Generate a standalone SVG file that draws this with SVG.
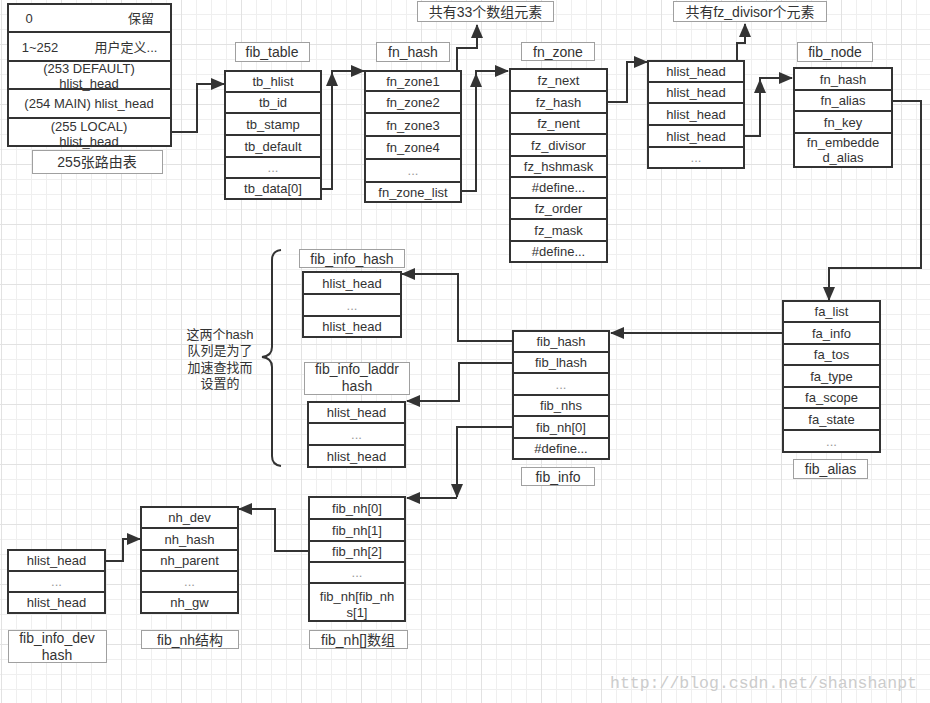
<svg xmlns="http://www.w3.org/2000/svg" width="930" height="703" viewBox="0 0 930 703">
<defs>
<pattern id="grid" patternUnits="userSpaceOnUse" x="1" y="44" width="60" height="60">
<rect x="15" y="0" width="1" height="60" fill="#efefef"/>
<rect x="30" y="0" width="1" height="60" fill="#efefef"/>
<rect x="45" y="0" width="1" height="60" fill="#efefef"/>
<rect x="0" y="15" width="60" height="1" fill="#efefef"/>
<rect x="0" y="30" width="60" height="1" fill="#efefef"/>
<rect x="0" y="45" width="60" height="1" fill="#efefef"/>
<rect x="0" y="0" width="1" height="60" fill="#e2e2e2"/>
<rect x="0" y="0" width="60" height="1" fill="#e2e2e2"/>
</pattern>
<marker id="ah" markerUnits="userSpaceOnUse" viewBox="0 0 14 12" markerWidth="14" markerHeight="12" refX="13" refY="6" orient="auto">
<path d="M0,0 L14,6 L0,12 z" fill="#333"/>
</marker>
</defs>
<style>
.box{fill:#fff;stroke:#333;stroke-width:2}
.sep{stroke:#333;stroke-width:2}
.cap{fill:#fff;stroke:#a0a0a0;stroke-width:1}
text{font-family:"Liberation Sans","Noto Sans CJK SC",sans-serif;font-size:13px;fill:#333;text-anchor:middle}
.ct{font-size:14px}
.dim{fill:#999}
.st{text-anchor:start}
.wire{fill:none;stroke:#333;stroke-width:2}
.wm{font-family:"Liberation Mono",monospace;font-size:16.5px;fill:#cccccc;text-anchor:start}
</style>
<rect width="930" height="703" fill="#fff"/>
<rect width="930" height="703" fill="url(#grid)"/>

<g id="route-tables">
<rect class="box" x="8" y="4" width="163" height="142"/>
<path class="sep" d="M8,32 H171 M8,61 H171 M8,89 H171 M8,118 H171"/>
<text x="29" y="22.5">0</text>
<text x="141" y="22.5">保留</text>
<text x="40" y="52">1~252</text>
<text x="126" y="52">用户定义...</text>
<text x="89" y="72.5">(253 DEFAULT)</text>
<text x="89" y="87.5">hlist_head</text>
<text x="89" y="108">(254 MAIN) hlist_head</text>
<text x="89" y="130.5">(255 LOCAL)</text>
<text x="89" y="146">hlist_head</text>
<rect class="cap" x="32.5" y="150.5" width="130" height="23"/>
<text class="ct" x="97" y="166.5">255张路由表</text>
</g>

<g id="fib_table">
<rect class="cap" x="235.5" y="42.5" width="74" height="19"/>
<text class="ct" x="272" y="57">fib_table</text>
<rect class="box" x="225" y="71" width="96" height="128"/>
<path class="sep" d="M225,92 H321 M225,113 H321 M225,135 H321 M225,157 H321 M225,178 H321"/>
<text x="273" y="86">tb_hlist</text>
<text x="273" y="107">tb_id</text>
<text x="273" y="128.5">tb_stamp</text>
<text x="273" y="150.5">tb_default</text>
<text class="dim" x="273" y="172">...</text>
<text x="273" y="193">tb_data[0]</text>
</g>

<g id="fn_hash">
<rect class="cap" x="376.5" y="42.5" width="73" height="19"/>
<text class="ct" x="413" y="57">fn_hash</text>
<rect class="box" x="365" y="71" width="96" height="131"/>
<path class="sep" d="M365,91 H461 M365,113 H461 M365,136 H461 M365,159 H461 M365,182 H461"/>
<text x="413" y="86">fn_zone1</text>
<text x="413" y="107">fn_zone2</text>
<text x="413" y="129.5">fn_zone3</text>
<text x="413" y="152">fn_zone4</text>
<text class="dim" x="413" y="175">...</text>
<text x="413" y="196.5">fn_zone_list</text>
</g>

<g id="note33">
<rect class="cap" x="417.5" y="1.5" width="136" height="20"/>
<text class="ct" x="485.5" y="16.5">共有33个数组元素</text>
</g>

<g id="fn_zone">
<rect class="cap" x="521.5" y="42.5" width="73" height="18"/>
<text class="ct" x="558" y="56.5">fn_zone</text>
<rect class="box" x="510" y="69" width="97" height="193"/>
<path class="sep" d="M510,91 H607 M510,113 H607 M510,134 H607 M510,156 H607 M510,177 H607 M510,198 H607 M510,219 H607 M510,241 H607"/>
<text x="558.5" y="84.5">fz_next</text>
<text x="558.5" y="106.5">fz_hash</text>
<text x="558.5" y="128">fz_nent</text>
<text x="558.5" y="149.5">fz_divisor</text>
<text x="558.5" y="171">fz_hshmask</text>
<text x="558.5" y="192">#define...</text>
<text x="558.5" y="213">fz_order</text>
<text x="558.5" y="234.5">fz_mask</text>
<text x="558.5" y="256">#define...</text>
</g>

<g id="fz_hash_table">
<rect class="box" x="648" y="61" width="96" height="107"/>
<path class="sep" d="M648,82 H744 M648,103 H744 M648,125 H744 M648,147 H744"/>
<text x="696" y="76">hlist_head</text>
<text x="696" y="97">hlist_head</text>
<text x="696" y="118.5">hlist_head</text>
<text x="696" y="140.5">hlist_head</text>
<text class="dim" x="696" y="162">...</text>
</g>

<g id="note_divisor">
<rect class="cap" x="673.5" y="1.5" width="153" height="20"/>
<text class="ct" x="750" y="16.5">共有fz_divisor个元素</text>
</g>

<g id="fib_node">
<rect class="cap" x="797.5" y="42.5" width="75" height="19"/>
<text class="ct" x="835" y="57">fib_node</text>
<rect class="box" x="794" y="68" width="98" height="99"/>
<path class="sep" d="M794,90 H892 M794,111 H892 M794,133 H892"/>
<text x="843" y="83.5">fn_hash</text>
<text x="843" y="105">fn_alias</text>
<text x="843" y="126.5">fn_key</text>
<text x="843" y="146.5">fn_embedde</text>
<text x="843" y="161.5">d_alias</text>
</g>

<g id="fib_alias">
<rect class="box" x="783" y="301" width="97" height="151"/>
<path class="sep" d="M783,322 H880 M783,344 H880 M783,365 H880 M783,387 H880 M783,408 H880 M783,430 H880"/>
<text x="831.5" y="316">fa_list</text>
<text x="831.5" y="337.5">fa_info</text>
<text x="831.5" y="359">fa_tos</text>
<text x="831.5" y="380.5">fa_type</text>
<text x="831.5" y="402">fa_scope</text>
<text x="831.5" y="423.5">fa_state</text>
<text class="dim" x="831.5" y="445.5">...</text>
<rect class="cap" x="793.5" y="459.5" width="74" height="19"/>
<text class="ct" x="830.5" y="474">fib_alias</text>
</g>

<g id="fib_info">
<rect class="box" x="513" y="331" width="96" height="128"/>
<path class="sep" d="M513,352 H609 M513,373 H609 M513,395 H609 M513,416 H609 M513,438 H609"/>
<text x="561" y="346">fib_hash</text>
<text x="561" y="367">fib_lhash</text>
<text class="dim" x="561" y="388.5">...</text>
<text x="561" y="410">fib_nhs</text>
<text x="561" y="431.5">fib_nh[0]</text>
<text x="561" y="453">#define...</text>
<rect class="cap" x="521.5" y="467.5" width="73" height="18"/>
<text class="ct" x="558" y="481.5">fib_info</text>
</g>

<g id="fib_info_hash">
<rect class="cap" x="299.5" y="249.5" width="105" height="18"/>
<text class="ct" x="352" y="263.5">fib_info_hash</text>
<rect class="box" x="303" y="272" width="98" height="65"/>
<path class="sep" d="M303,294 H401 M303,316 H401"/>
<text x="352" y="287.5">hlist_head</text>
<text class="dim" x="352" y="309.5">...</text>
<text x="352" y="331">hlist_head</text>
</g>

<g id="fib_info_laddrhash">
<rect class="cap" x="304.5" y="362.5" width="105" height="32"/>
<text class="ct" x="357" y="374">fib_info_laddr</text>
<text class="ct" x="357" y="391">hash</text>
<rect class="box" x="308" y="402" width="97" height="65"/>
<path class="sep" d="M308,423 H405 M308,445 H405"/>
<text x="356.5" y="417">hlist_head</text>
<text class="dim" x="356.5" y="438.5">...</text>
<text x="356.5" y="460.5">hlist_head</text>
</g>

<g id="hash-note">
<path class="wire" d="M281,250 Q272,251 272,260 V347 Q272,356 262,357 Q272,358 272,367 V456 Q272,465 281,466"/>
<text x="220" y="339">这两个hash</text>
<text x="220" y="355">队列是为了</text>
<text x="220" y="372">加速查找而</text>
<text x="220" y="388">设置的</text>
</g>

<g id="fib_nh_array">
<rect class="box" x="309" y="497" width="96" height="124"/>
<path class="sep" d="M309,519 H405 M309,541 H405 M309,562 H405 M309,583 H405"/>
<text x="357" y="512.5">fib_nh[0]</text>
<text x="357" y="534.5">fib_nh[1]</text>
<text x="357" y="556">fib_nh[2]</text>
<text class="dim" x="357" y="577">...</text>
<text x="357" y="600.5">fib_nh[fib_nh</text>
<text x="357" y="616.5">s[1]</text>
<rect class="cap" x="309.5" y="630.5" width="98" height="18"/>
<text class="ct" x="358" y="644.5">fib_nh[]数组</text>
</g>

<g id="fib_nh_struct">
<rect class="box" x="141" y="507" width="97" height="106"/>
<path class="sep" d="M141,528 H238 M141,550 H238 M141,571 H238 M141,592 H238"/>
<text x="189.5" y="522">nh_dev</text>
<text x="189.5" y="543.5">nh_hash</text>
<text x="189.5" y="565">nh_parent</text>
<text class="dim" x="189.5" y="586">...</text>
<text x="189.5" y="607">nh_gw</text>
<rect class="cap" x="141.5" y="630.5" width="97" height="18"/>
<text class="ct" x="190" y="644.5">fib_nh结构</text>
</g>

<g id="fib_info_devhash">
<rect class="box" x="8" y="550" width="97" height="63"/>
<path class="sep" d="M8,571 H105 M8,592 H105"/>
<text x="56.5" y="565">hlist_head</text>
<text class="dim" x="56.5" y="586">...</text>
<text x="56.5" y="607">hlist_head</text>
<rect class="cap" x="8.5" y="630.5" width="98" height="32"/>
<text class="ct" x="57" y="642.5">fib_info_dev</text>
<text class="ct" x="57" y="660">hash</text>
</g>

<g id="connectors">
<path class="wire" marker-end="url(#ah)" d="M172,132 H197 V84 H224"/>
<path class="wire" marker-end="url(#ah)" d="M321,189 H332 V71 H364"/>
<path class="wire" marker-end="url(#ah)" d="M332,90 V73"/>
<path class="wire" marker-end="url(#ah)" d="M457,71 V48 H477 V25"/>
<path class="wire" marker-end="url(#ah)" d="M461,191 H476 V71 H508"/>
<path class="wire" marker-end="url(#ah)" d="M476,92 V74"/>
<path class="wire" marker-end="url(#ah)" d="M607,102 H627 V62 H647"/>
<path class="wire" marker-end="url(#ah)" d="M737,61 V43 H745 V24"/>
<path class="wire" marker-end="url(#ah)" d="M744,136 H760 V78 H792"/>
<path class="wire" marker-end="url(#ah)" d="M760,96 V80"/>
<path class="wire" marker-end="url(#ah)" d="M892,101 H921 V268 H829 V300"/>
<path class="wire" marker-end="url(#ah)" d="M783,333 H611"/>
<path class="wire" marker-end="url(#ah)" d="M513,341 H458 V274 H402"/>
<path class="wire" marker-end="url(#ah)" d="M513,363 H459 V401 H407"/>
<path class="wire" marker-end="url(#ah)" d="M513,427 H457 V497"/>
<path class="wire" marker-end="url(#ah)" d="M457,498 H407"/>
<path class="wire" marker-end="url(#ah)" d="M309,551 H275 V509 H239"/>
<path class="wire" marker-end="url(#ah)" d="M105,561 H123 V539 H140"/>
</g>

<text class="wm" x="610" y="688">http://blog.csdn.net/shanshanpt</text>
</svg>
